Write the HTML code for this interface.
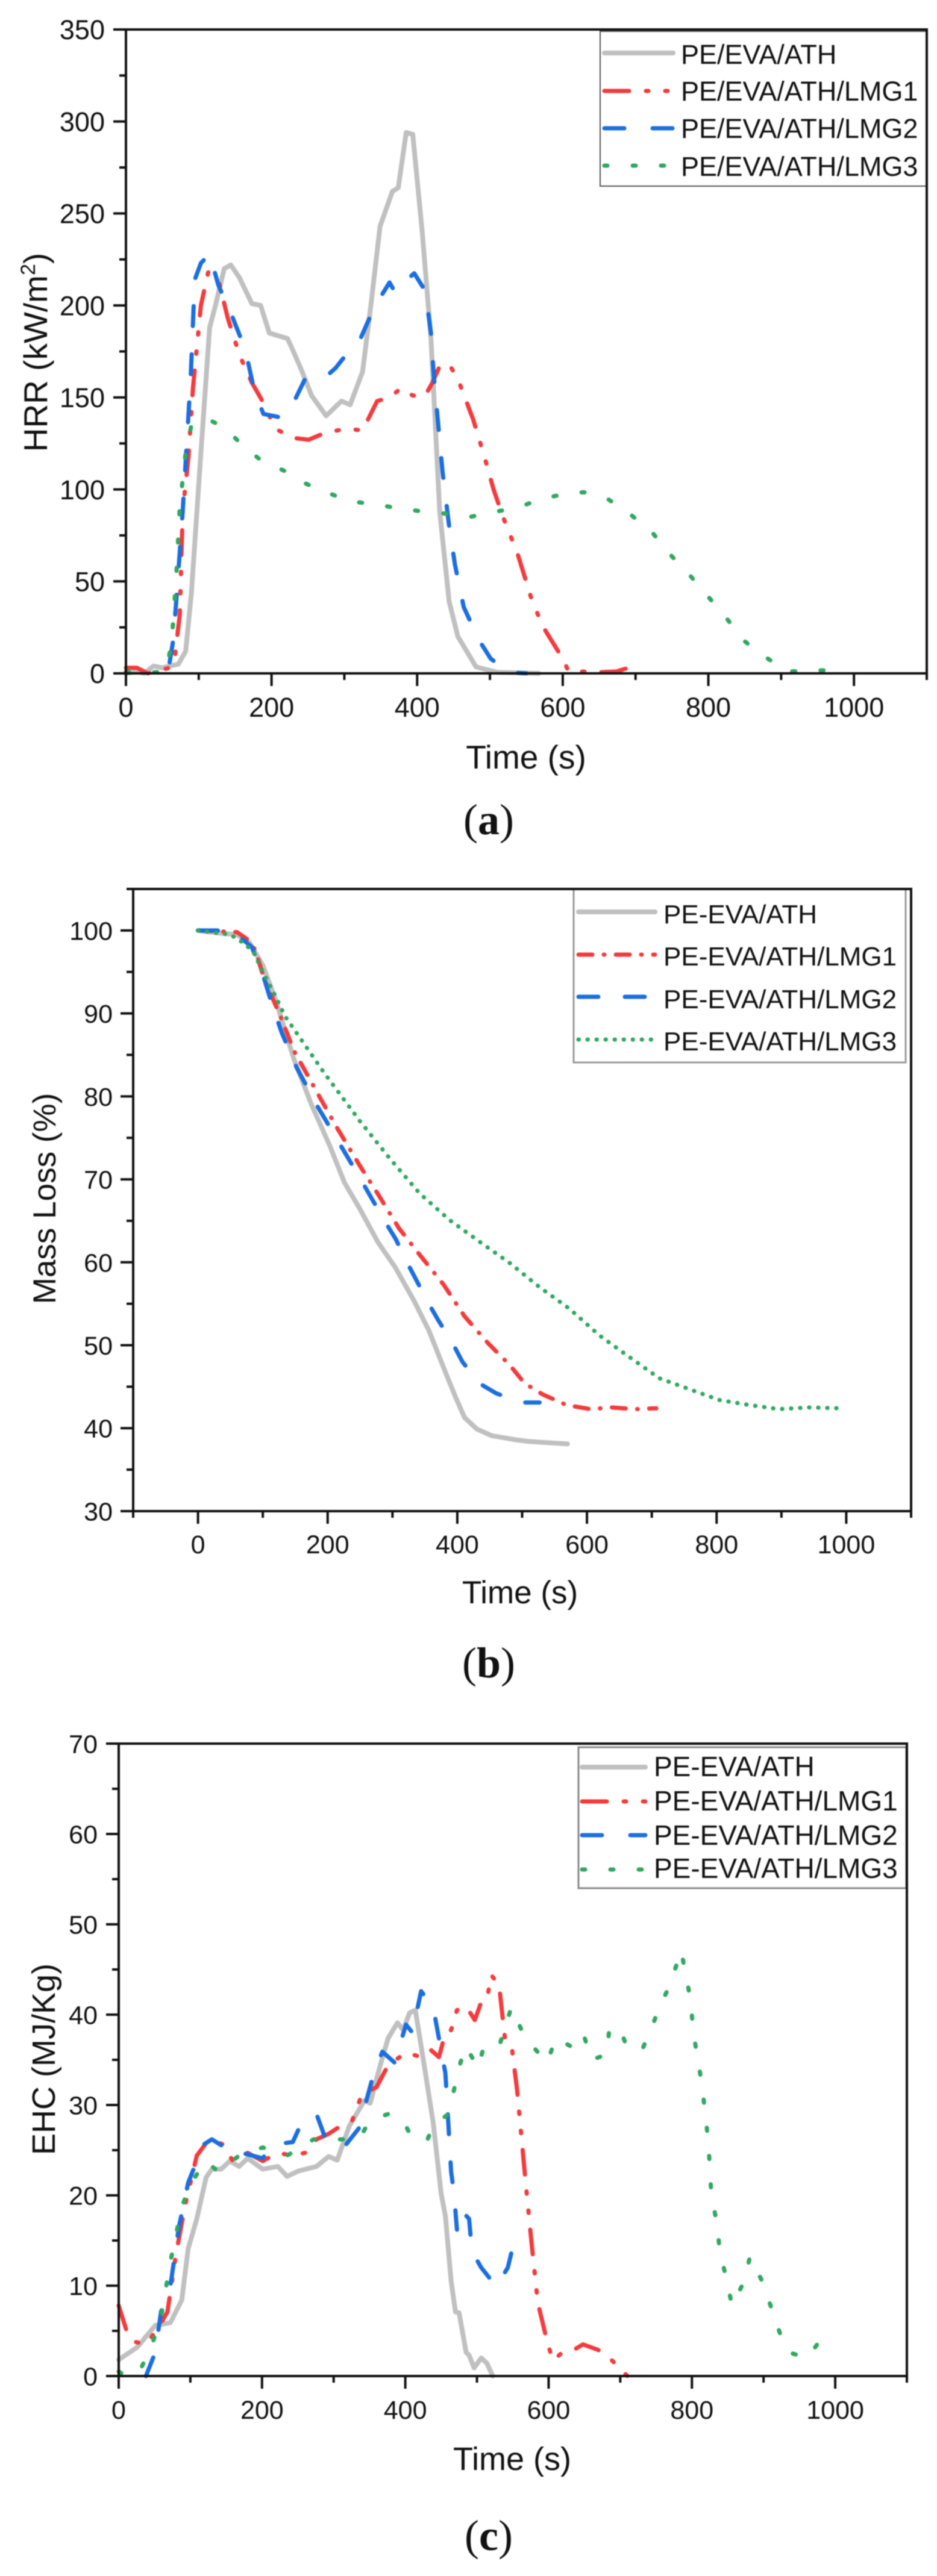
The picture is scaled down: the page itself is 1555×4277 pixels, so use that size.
<!DOCTYPE html>
<html lang="en">
<head>
<meta charset="utf-8">
<title>HRR, mass loss and EHC charts</title>
<style>
html,body{margin:0;padding:0;background:#fff;}
svg{display:block;filter:blur(0.8px);}
text{font-family:"Liberation Sans",Arial,sans-serif;fill:#111;}
.cap{font-family:"Liberation Serif","Times New Roman",serif;}
</style>
</head>
<body>
<svg id="figure" xmlns="http://www.w3.org/2000/svg" width="1555" height="4277" viewBox="0 0 1555 4277"></svg>
<script>
// ---------- Chart (a) HRR data ----------
const hrrNames = ["PE/EVA/ATH","PE/EVA/ATH/LMG1","PE/EVA/ATH/LMG2","PE/EVA/ATH/LMG3"];
const hrrXTicks = [0,200,400,600,800,1000];
const hrrYTicks = [0,50,100,150,200,250,300,350];
const hrrBaseT = [0,15,25,38,50,60,72,82,90,103,115,123,135,144,156,173,185,197,222,230,242,255,275,296,308,325,337,349,366,374,385,394,407,419,431,444,456,481,510,567];
const hrrBaseV = [0,1,0,4,3,4,5,12,44,120,188,200,220,222,215,201,200,185,182,175,164,151,140,148,146,164,202,243,262,264,294,293,240,182,88,39,20,3.5,0.6,0];
const hrrLmg1T = [0,15,30,50,60,67,71,74,78,86,92,103,113,127,140,156,173,189,205,230,251,275,304,325,345,362,378,394,411,421,431,444,456,477,493,505,518,538,559,575,600,608,625,649,674,694];
const hrrLmg1V = [3,3,0,2,3,8,22,32,88,118,155,200,218,214,193,173,158,147,133,128,127,131,133,132,148,150,155,151,151,158,167,168,160,138,117,100,85,65,38,24,8,1,1,0.6,1,3.5];
const hrrLmg2T = [60,65,69,78,89,94.5,103,115,127,144,164,177,189,214,230,246,271,288,308,320,341,362,370,386,396,411,419,423,435,444,452,464,485,501,526,550];
const hrrLmg2V = [6,18,39,88,161,214,223,228,211,196,176,152.5,141,139,147,160,160,166,176,180,199,212.5,207,214,217.5,208,185,161,109,80,59,36,18,8,0.6,0];
const hrrLmg3T = [0,20,36,55,61,65,70,74,82,90,111,136,160,185,218,242,275,308,341,370,407,435,472,509,538,571,604,629,661,690,723,744,771,797,823,848,878,908,947,986];
const hrrLmg3V = [1,0,0.5,1,13,28,59,91,120,135,138.5,133.5,124,116,110,104,98.5,93.5,92,90,88,87,85,88,90,95,97.5,98.5,95,87.4,76.6,66,55,43,31,18,9,1,1.5,2];

// ---------- Chart (b) mass loss data ----------
const massNames = ["PE-EVA/ATH","PE-EVA/ATH/LMG1","PE-EVA/ATH/LMG2","PE-EVA/ATH/LMG3"];
const massXTicks = [0,200,400,600,800,1000];
const massYTicks = [30,40,50,60,70,80,90,100];
const massBaseT = [0,30,60,80,100,120,148,175,203,226,250,277,305,333,356,384,397,411,430,453,490,510,570];
const massBaseV = [100,99.7,99.5,98.5,95.8,91.6,84.5,79,74.1,69.6,66.4,62.5,59.3,55.4,51.8,46.3,43.8,41.3,39.9,39.1,38.6,38.4,38.1];
const massLmg1T = [0,60,75,88,102,129,148,185,213,250,277,310,342,379,411,448,481,504,531,568,605,638,675,707];
const massLmg1V = [100,99.8,99,97.7,94.2,89.3,85.5,80.3,76.4,71.6,68.3,64.1,60.9,57.3,53.5,50.2,47.6,45.4,44.1,42.8,42.3,42.5,42.3,42.4];
const massLmg2T = [0,30,60,83,102,111,129,152,185,217,254,287,305,323,356,370,393,408,434,460,499,527];
const massLmg2V = [100,100,99.5,98,94.2,91.9,87.7,83.5,78.7,74.5,69.6,65.1,62.8,59.9,55,53.1,50.2,48,45.4,44.2,43.1,43.1];
const massLmg3T = [0,50,70,85,100,120,134,194,250,296,342,388,434,481,527,573,619,665,712,758,804,850,896,943,989];
const massLmg3V = [100,99.5,98.5,97.5,95,92,89.7,82.9,77,72.5,68.3,65.1,62.5,59.9,57,54.4,51.2,48.6,46,44.7,43.4,42.8,42.3,42.5,42.4];

// ---------- Chart (c) EHC data ----------
const ehcNames = ["PE-EVA/ATH","PE-EVA/ATH/LMG1","PE-EVA/ATH/LMG2","PE-EVA/ATH/LMG3"];
const ehcXTicks = [0,200,400,600,800,1000];
const ehcYTicks = [0,10,20,30,40,50,60,70];
const ehcBaseT = [0,26,51,72,88,97,109,122,130,143,155,168,180,201,222,235,251,276,293,305,322,343,351,364,376,389,397,406,414,427,439,450,456,464,470,475,485,489,496,506,514,522];
const ehcBaseV = [1.8,3.2,5.6,5.9,8.4,14.1,17.4,22,22.9,22.9,23.8,23.2,24.1,22.9,23.2,22.1,22.7,23.2,24.3,23.9,27.7,30.5,30.2,34.1,37.4,39.1,38.3,40.2,40.5,34.1,28,20.2,17.7,10.5,7.1,7,2.6,2.3,0.9,2,1.4,0];
const ehcLmg1T = [0,11,22,38,55,68,80,93,109,126,147,159,180,201,222,243,260,276,293,310,326,339,360,376,401,418,434,447,456,464,472,485,497,506,514,520,531,539,548,556,568,577,585,598,606,619,635,648,669,685,710];
const ehcLmg1V = [7.8,5,3.8,3.5,5.3,7.1,13.5,19,24.4,26.2,25.6,23.8,24.7,23.8,24.7,24.4,24.7,26.2,26.8,27.7,28.3,31.1,32,34.4,35.8,35.4,36.2,35.3,38,38.3,40.5,40.9,39.4,41.4,41.7,44.4,43.2,37.4,36.8,31.7,21.4,14.1,8.1,3.8,1.7,2.6,2.9,3.5,2.9,2,0];
const ehcLmg2T = [38,51,59,72,84,97,118,130,150,164,172,201,214,243,255,276,289,314,335,356,368,385,401,410,422,439,456,460,464,468,472,477,489,493,506,527,543,556];
const ehcLmg2V = [0,2.6,7.1,9.9,16.5,21.4,25.6,26.2,25.2,24.4,24.7,24.1,25.6,25.9,28,29,26.2,25.3,27.4,33.5,35.9,34.7,38.9,38,42.6,40.8,33.5,28,22.6,20.2,16.2,18.4,17.4,13.8,12,9.9,12,16.2];
const ehcLmg3T = [0,10,30,47,59,72,88,101,122,139,168,201,235,272,301,335,351,376,397,410,431,439,460,468,477,485,501,510,531,548,564,581,598,610,631,648,660,681,685,702,710,731,744,756,769,785,798,802,814,823,827,835,839,848,856,873,881,898,911,923,936,961,986];
const ehcLmg3V = [0.5,0,0.65,3.6,6.5,12.6,18.7,21.4,23.8,22.6,24.4,25.3,24.4,26.2,26.2,26.2,28.3,29,28.3,26.2,26.2,27.7,29,31.7,34.7,36.5,34.1,36.5,36.5,40.8,38,36.2,34.7,37.4,36.5,38,35,35.6,38.6,38,36.2,36.2,38.6,41.1,43.2,47.1,41.7,38,32.3,25.9,20.2,16.8,13.8,10.8,7.8,10.5,13.2,10.5,7.5,4.7,2.6,2,4.7];

const NS = "http://www.w3.org/2000/svg";
const root = document.getElementById("figure");

function el(parent, tag, attrs, txt) {
  const n = document.createElementNS(NS, tag);
  for (const k in attrs) n.setAttribute(k, attrs[k]);
  if (txt !== undefined) n.textContent = txt;
  parent.appendChild(n);
  return n;
}
function linear(d0, d1, r0, r1) {
  return function (v) { return r0 + (v - d0) * (r1 - r0) / (d1 - d0); };
}

const seriesStyles = [
  {stroke:"#c0c0c0", width:8, key:"baseline"},
  {stroke:"#f43a3c", width:7, key:"lmg1"},
  {stroke:"#1a6ee0", width:7, key:"lmg2"},
  {stroke:"#2fa860", width:7, key:"lmg3"}
];

function drawChart(c) {
  const g = el(root, "g", {});
  
  
  const sx = linear(c.xMin, c.xMax, c.left, c.right);
  const sy = linear(c.yMin, c.yMax, c.bottom, c.top);

  // series
  c.series.forEach(function (s, i) {
    const pts = s.t.map(function (t, j) { return sx(t).toFixed(1) + "," + sy(s.v[j]).toFixed(1); }).join(" ");
    const st = seriesStyles[i];
    const line = el(g, "polyline", {points:pts, fill:"none", stroke:st.stroke, "stroke-width":st.width,
      "stroke-linecap":"round", "stroke-linejoin":"round", "stroke-dasharray":c.dashes[i]});
    
    
  });

  // frame
  const frame = el(g, "rect", {x:c.left, y:c.top, width:c.right - c.left, height:c.bottom - c.top, fill:"none", stroke:"#111", "stroke-width":4});
  
  

  // x ticks
  const xStepMinor = c.xMinorStep;
  for (let v = c.xMin; v <= c.xMax + 0.001; v += xStepMinor) {
    const major = c.xTicks.indexOf(v) >= 0;
    const px = sx(v);
    const tk = el(g, "line", {x1:px, x2:px, y1:c.bottom, y2:c.bottom + (major ? 21 : 11), stroke:"#111", "stroke-width":4});
    
    
  }
  c.xTicks.forEach(function (v) {
    const t = el(g, "text", {x:sx(v), y:c.xLabelY, "text-anchor":"middle", "font-size":c.tickFont}, String(v));
    
    
  });

  // y ticks
  const yStepMinor = c.yMinorStep;
  for (let v = c.yMin; v <= c.yMax + 0.001; v += yStepMinor) {
    const major = c.yTicks.indexOf(v) >= 0;
    const py = sy(v);
    const tk = el(g, "line", {x1:c.left, x2:c.left - (major ? 21 : 11), y1:py, y2:py, stroke:"#111", "stroke-width":4});
    
    
  }
  c.yTicks.forEach(function (v) {
    const t = el(g, "text", {x:c.yLabelX, y:sy(v) + c.tickFont * 0.36, "text-anchor":"end", "font-size":c.tickFont}, String(v));
    
    
  });

  // axis titles
  const xt = el(g, "text", {x:c.xTitleX, y:c.xTitleY, "text-anchor":"middle", "font-size":c.titleFont}, "Time (s)");
  
  
  const yt = el(g, "text", {transform:"translate(" + c.yTitleX + "," + c.yTitleY + ") rotate(-90)", "text-anchor":"middle", "font-size":c.titleFont});
  
  
  if (c.yTitleSup) {
    el(yt, "tspan", {}, c.yTitle);
    el(yt, "tspan", {dy:-20, "font-size":c.titleFont * 0.62}, c.yTitleSup);
    el(yt, "tspan", {dy:20}, ")");
  } else {
    yt.textContent = c.yTitle;
  }

  // legend
  const lg = el(g, "g", {});
  
  
  const box = el(lg, "rect", {x:c.legend.x0, y:c.legend.y0, width:c.legend.x1 - c.legend.x0, height:c.legend.y1 - c.legend.y0, fill:"#fff", stroke:c.legend.border, "stroke-width":c.legend.borderWidth});
  
  
  c.names.forEach(function (name, i) {
    const st = seriesStyles[i];
    const ly = c.legend.rows[i];
    const sample = el(lg, "line", {x1:c.legend.lineX0, x2:c.legend.lineX1, y1:ly, y2:ly, stroke:st.stroke, "stroke-width":st.width, "stroke-linecap":"round", "stroke-dasharray":c.dashes[i]});
    
    
    const lab = el(lg, "text", {x:c.legend.textX, y:c.legend.base[i], "font-size":c.legend.font}, name);
    
    
  });
  frame.parentNode.appendChild(frame.cloneNode());
  
  g.lastChild.setAttribute("fill", "none");

  // caption
  const cap = el(g, "text", {"class":"cap", x:811, y:c.capY, "text-anchor":"middle", "font-size":72});
  
  
  el(cap, "tspan", {}, "(");
  el(cap, "tspan", {"font-weight":"bold"}, c.capLetter);
  el(cap, "tspan", {}, ")");
}

drawChart({
  id:"hrr", left:209, right:1538, top:49, bottom:1118,
  xMin:0, xMax:1100, yMin:0, yMax:350, xMinorStep:100, yMinorStep:25,
  xTicks:hrrXTicks, yTicks:hrrYTicks, names:hrrNames,
  series:[{t:hrrBaseT,v:hrrBaseV},{t:hrrLmg1T,v:hrrLmg1V},{t:hrrLmg2T,v:hrrLmg2V},{t:hrrLmg3T,v:hrrLmg3V}],
  dashes:["none","41 28 4 28 4 28","33 47","5 42"],
  tickFont:45, titleFont:55, xLabelY:1190, yLabelX:174,
  xTitleX:873, xTitleY:1276, yTitleX:78, yTitleY:585,
  yTitle:"HRR (kW/m", yTitleSup:"2",
  legend:{x0:996, x1:1538, y0:52, y1:309, border:"#555", borderWidth:2, lineX0:1003, lineX1:1117, textX:1130, font:45,
    rows:[88,151,213,275], base:[106,167,229,292]},
  capY:1385, capLetter:"a"
});

drawChart({
  id:"mass", left:221, right:1512, top:1476, bottom:2509,
  xMin:-100, xMax:1100, yMin:30, yMax:105, xMinorStep:100, yMinorStep:5,
  xTicks:massXTicks, yTicks:massYTicks, names:massNames,
  series:[{t:massBaseT,v:massBaseV},{t:massLmg1T,v:massLmg1V},{t:massLmg2T,v:massLmg2V},{t:massLmg3T,v:massLmg3V}],
  dashes:["none","23 19 1 19","33 44","0.5 14.5"],
  tickFont:43, titleFont:53, xLabelY:2579, yLabelX:187,
  xTitleX:863, xTitleY:2662, yTitleX:92, yTitleY:1990,
  yTitle:"Mass Loss (%)", yTitleSup:"",
  legend:{x0:952, x1:1503, y0:1476, y1:1764, border:"#999", borderWidth:3, lineX0:960, lineX1:1087, textX:1101, font:44,
    rows:[1514,1585,1655,1726], base:[1533,1603,1674,1744]},
  capY:2785, capLetter:"b"
});

drawChart({
  id:"ehc", left:197, right:1505, top:2895, bottom:3945,
  xMin:0, xMax:1100, yMin:0, yMax:70, xMinorStep:100, yMinorStep:5,
  xTicks:ehcXTicks, yTicks:ehcYTicks, names:ehcNames,
  series:[{t:ehcBaseT,v:ehcBaseV},{t:ehcLmg1T,v:ehcLmg1V},{t:ehcLmg2T,v:ehcLmg2V},{t:ehcLmg3T,v:ehcLmg3V}],
  dashes:["none","41 28 4 28 4 28","33 47","5 42"],
  tickFont:43, titleFont:54, xLabelY:4016, yLabelX:162,
  xTitleX:850, xTitleY:4101, yTitleX:91, yTitleY:3419,
  yTitle:"EHC (MJ/Kg)", yTitleSup:"",
  legend:{x0:960, x1:1504, y0:2901, y1:3135, border:"#888", borderWidth:3, lineX0:966, lineX1:1071, textX:1085, font:46,
    rows:[2934,2991,3047,3104], base:[2949,3006,3063,3118]},
  capY:4234, capLetter:"c"
});
</script>
</body>
</html>
